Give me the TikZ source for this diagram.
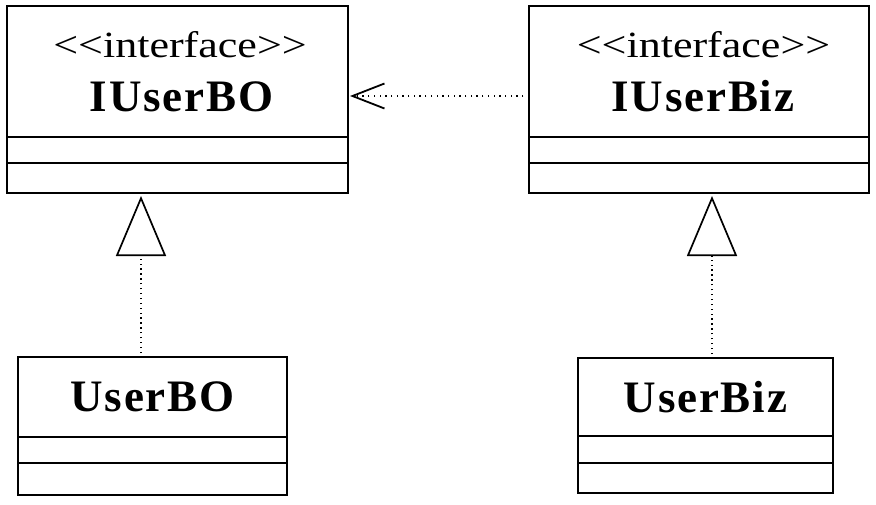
\documentclass[tikz,border=0pt]{standalone}
\usepackage{fontspec}
\setmainfont{Liberation Serif}
\newfontfamily\stereofont{Liberation Serif}[FakeStretch=1.19,Ligatures=TeXOff]
\newfontfamily\namefont{Liberation Serif}[LetterSpace=4]
\usetikzlibrary{positioning,arrows.meta}

\begin{document}
\begin{tikzpicture}[
  x=1pt, y=-1pt,
  classhead/.style={draw,rectangle,line width=1.7pt,outer sep=0pt,inner sep=0pt,font=\namefont\bfseries\fontsize{45}{54}\selectfont},
  compartment/.style={draw,rectangle,line width=1.7pt,outer sep=0pt,inner sep=0pt,minimum height=26pt},
  stereo/.style={inner sep=0pt,anchor=base,font=\stereofont\fontsize{37}{44}\selectfont},
  cname/.style={inner sep=0pt,anchor=base,font=\namefont\bfseries\fontsize{45}{54}\selectfont},
  realize/.style={draw,line width=1.2pt,dash pattern=on 1.3pt off 3.6pt,shorten <=4pt,shorten >=3pt,
    -{Triangle[open,length=60pt,width=50pt,line width=1.7pt]}},
  depend/.style={draw,line width=1.2pt,dash pattern=on 1.3pt off 4.4pt,shorten >=2pt,
    -{Straight Barb[length=32pt,width=25pt,line width=1.8pt]}},
]
  \useasboundingbox (0,0) rectangle (876,504);

  % Interfaces
  \node[classhead,minimum width=341pt,minimum height=131pt] (IUserBO) at (177.5,71.5) {};
  \node[compartment,minimum width=341pt,below=0pt of IUserBO] (IUserBOattr) {};
  \node[compartment,minimum width=341pt,minimum height=30pt,below=0pt of IUserBOattr] (IUserBOops) {};
  \node[stereo] (IUserBOst) at (180,57) {<<interface>>};
  \node[cname] (IUserBOname) at (181.5,111) {IUserBO};

  \node[classhead,minimum width=340pt,minimum height=131pt] (IUserBiz) at (699,71.5) {};
  \node[compartment,minimum width=340pt,below=0pt of IUserBiz] (IUserBizattr) {};
  \node[compartment,minimum width=340pt,minimum height=30pt,below=0pt of IUserBizattr] (IUserBizops) {};
  \node[stereo] (IUserBizst) at (703.5,57) {<<interface>>};
  \node[cname] (IUserBizname) at (703,111) {IUserBiz};

  % Implementations
  \node[classhead,minimum width=269pt,minimum height=80pt] (UserBO) at (152.5,397) {UserBO};
  \node[compartment,minimum width=269pt,below=0pt of UserBO] (UserBOattr) {};
  \node[compartment,minimum width=269pt,minimum height=32pt,below=0pt of UserBOattr] (UserBOops) {};

  \node[classhead,minimum width=255pt,minimum height=78pt] (UserBiz) at (705.5,397) {UserBiz};
  \node[compartment,minimum width=255pt,minimum height=27pt,below=0pt of UserBiz] (UserBizattr) {};
  \node[compartment,minimum width=255pt,minimum height=30pt,below=0pt of UserBizattr] (UserBizops) {};

  % Connector axes
  \coordinate (boAxis) at (141,0);
  \coordinate (bizAxis) at (712,0);
  \coordinate (useAxis) at (0,96);

  % Edges: realization
  \path (UserBO.north -| boAxis) edge[realize] (IUserBOops.south -| boAxis);
  \path (UserBiz.north -| bizAxis) edge[realize] (IUserBizops.south -| bizAxis);

  % Edges: dependency
  \path (IUserBiz.west |- useAxis) edge[depend] (IUserBO.east |- useAxis);
\end{tikzpicture}
\end{document}
